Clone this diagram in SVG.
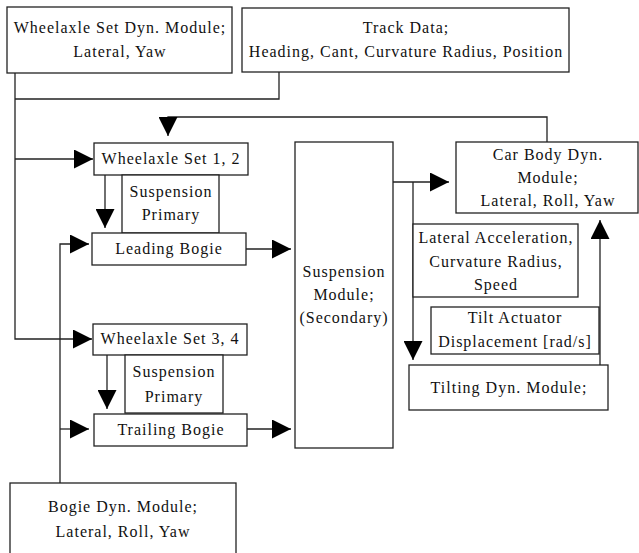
<svg xmlns="http://www.w3.org/2000/svg" width="639" height="553" viewBox="0 0 639 553">
<style>
.box{fill:#fff;stroke:#222;stroke-width:1.3}
.t{font-family:"Liberation Serif","Times New Roman",serif;font-size:16px;letter-spacing:1px;fill:#111;text-anchor:middle}
.c{fill:none;stroke:#222;stroke-width:1.3}
</style>
<defs>
<marker id="ah" markerUnits="userSpaceOnUse" markerWidth="19" markerHeight="19" refX="19" refY="9.5" orient="auto" viewBox="0 0 19 19">
<path d="M0,0 L19,9.5 L0,19 z" fill="#000"/>
</marker>
</defs>
<rect width="639" height="553" fill="#fff"/>
<g id="connectors">
<path class="c" d="M15,73 V339 H92" marker-end="url(#ah)"/>
<path class="c" d="M15,159 H93" marker-end="url(#ah)"/>
<path class="c" d="M279,72 V99 H15"/>
<path class="c" d="M547,142 V117 H168 V136" marker-end="url(#ah)"/>
<path class="c" d="M105,175 V228" marker-end="url(#ah)"/>
<path class="c" d="M246,249 H291" marker-end="url(#ah)"/>
<path class="c" d="M60,483 V244 H89" marker-end="url(#ah)"/>
<path class="c" d="M60,429 H89" marker-end="url(#ah)"/>
<path class="c" d="M107,355 V409" marker-end="url(#ah)"/>
<path class="c" d="M247,429 H291" marker-end="url(#ah)"/>
<path class="c" d="M393,182 H449" marker-end="url(#ah)"/>
<path class="c" d="M413,182 V360" marker-end="url(#ah)"/>
<path class="c" d="M600,365 V220" marker-end="url(#ah)"/>
</g>
<g id="wheelaxle-dyn">
<rect class="box" x="7" y="7" width="225" height="66"/>
<text class="t" x="120" y="33">Wheelaxle Set Dyn. Module;</text>
<text class="t" x="120" y="57">Lateral, Yaw</text>
</g>
<g id="track-data">
<rect class="box" x="242" y="8" width="327" height="64"/>
<text class="t" x="406" y="33">Track Data;</text>
<text class="t" x="406" y="57">Heading, Cant, Curvature Radius, Position</text>
</g>
<g id="wheelaxle-12">
<rect class="box" x="94" y="143" width="154" height="32"/>
<text class="t" x="171" y="164">Wheelaxle Set 1, 2</text>
</g>
<g id="susp-primary-1">
<rect class="box" x="122" y="175" width="97" height="58"/>
<text class="t" x="171" y="197">Suspension</text>
<text class="t" x="171" y="220">Primary</text>
</g>
<g id="leading-bogie">
<rect class="box" x="92" y="233" width="154" height="32"/>
<text class="t" x="169" y="254">Leading Bogie</text>
</g>
<g id="wheelaxle-34">
<rect class="box" x="93" y="324" width="154" height="31"/>
<text class="t" x="170" y="344">Wheelaxle Set 3, 4</text>
</g>
<g id="susp-primary-2">
<rect class="box" x="125" y="355" width="98" height="58"/>
<text class="t" x="174" y="377">Suspension</text>
<text class="t" x="174" y="402">Primary</text>
</g>
<g id="trailing-bogie">
<rect class="box" x="94" y="414" width="153" height="32"/>
<text class="t" x="171" y="435">Trailing Bogie</text>
</g>
<g id="bogie-dyn">
<rect class="box" x="10" y="483" width="226" height="80"/>
<text class="t" x="123" y="512">Bogie Dyn. Module;</text>
<text class="t" x="123" y="537">Lateral, Roll, Yaw</text>
</g>
<g id="suspension-module">
<rect class="box" x="295" y="142" width="98" height="306"/>
<text class="t" x="344" y="277">Suspension</text>
<text class="t" x="344" y="300">Module;</text>
<text class="t" x="344" y="323">(Secondary)</text>
</g>
<g id="car-body">
<rect class="box" x="456" y="142" width="182" height="71"/>
<text class="t" x="548" y="160">Car Body Dyn.</text>
<text class="t" x="548" y="183">Module;</text>
<text class="t" x="548" y="206">Lateral, Roll, Yaw</text>
</g>
<g id="lateral-acc">
<rect class="box" x="413" y="224" width="165" height="73"/>
<text class="t" x="496" y="243">Lateral Acceleration,</text>
<text class="t" x="496" y="267">Curvature Radius,</text>
<text class="t" x="496" y="290">Speed</text>
</g>
<g id="tilt-actuator">
<rect class="box" x="431" y="307" width="168" height="47"/>
<text class="t" x="515" y="323">Tilt Actuator</text>
<text class="t" x="515" y="347">Displacement [rad/s]</text>
</g>
<g id="tilting-dyn">
<rect class="box" x="409" y="365" width="199" height="45"/>
<text class="t" x="509" y="393">Tilting Dyn. Module;</text>
</g>
</svg>
